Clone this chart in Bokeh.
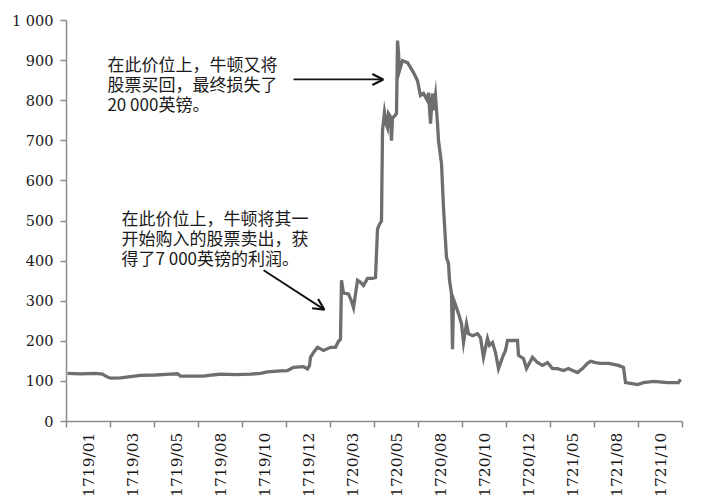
from math import pi
from bokeh.plotting import figure
from bokeh.models import Range1d, FixedTicker, Arrow, OpenHead, Label, ColumnDataSource
from bokeh.embed import file_html
from bokeh.resources import INLINE

# Category labels on the x axis (one per block of trading days)
categories = ["1719/01", "1719/03", "1719/05", "1719/08", "1719/10", "1719/12",
              "1720/03", "1720/05", "1720/08", "1720/10", "1720/12",
              "1721/05", "1721/08", "1721/10"]

# Position along the trading-day axis (in category units) and price
day_pos = [0.023, 0.318, 0.659, 0.818, 0.909, 1.0, 1.227, 1.455, 1.682, 2.023,
           2.364, 2.523, 2.591, 2.818, 3.114, 3.318, 3.5, 3.841, 4.182, 4.409,
           4.568, 4.864, 5.023, 5.159, 5.386, 5.477, 5.523, 5.545, 5.614, 5.705,
           5.841, 6.0, 6.114, 6.182, 6.227, 6.25, 6.295, 6.409, 6.477, 6.523,
           6.614, 6.682, 6.75, 6.841, 6.955, 7.023, 7.068, 7.114, 7.159, 7.182,
           7.227, 7.273, 7.295, 7.318, 7.364, 7.386, 7.409, 7.5, 7.523, 7.545,
           7.568, 7.636, 7.75, 7.818, 7.886, 7.977, 8.045, 8.114, 8.205, 8.227,
           8.273, 8.318, 8.341, 8.386, 8.432, 8.455, 8.523, 8.568, 8.636, 8.682,
           8.705, 8.75, 8.773, 8.795, 8.864, 8.909, 8.977, 9.023, 9.091, 9.136,
           9.227, 9.341, 9.409, 9.477, 9.568, 9.614, 9.682, 9.75, 9.818, 9.909,
           9.977, 10.023, 10.25, 10.273, 10.386, 10.455, 10.591, 10.705, 10.818, 10.932,
           11.045, 11.159, 11.295, 11.409, 11.5, 11.614, 11.727, 11.841, 11.909, 12.023,
           12.136, 12.318, 12.545, 12.659, 12.705, 12.818, 12.977, 13.114, 13.341, 13.659,
           13.909, 13.955]
price = [120, 119, 120, 118, 112, 108, 109, 112, 115, 116,
         118, 119, 113, 113, 113, 116, 118, 117, 118, 120,
         124, 126, 127, 135, 137, 131, 140, 160, 172, 185,
         177, 185, 185, 200, 205, 352, 320, 318, 300, 284,
         352, 347, 339, 357, 357, 359, 480, 492, 500, 726,
         771, 740, 733, 768, 760, 700, 756, 768, 950, 920,
         875, 900, 895, 883, 870, 850, 813, 818, 800, 820,
         743, 818, 776, 813, 743, 700, 643, 534, 409, 394,
         352, 319, 180, 305, 284, 269, 244, 197, 244, 219,
         214, 219, 209, 160, 207, 190, 197, 172, 132, 160,
         177, 202, 202, 165, 157, 132, 160, 147, 140, 147,
         132, 132, 127, 132, 127, 122, 132, 145, 150, 147,
         145, 145, 140, 135, 97, 95, 92, 97, 100, 97,
         97, 105]

y_ticks = [0, 100, 200, 300, 400, 500, 600, 700, 800, 900, 1000]

note_top = ["在此价位上，牛顿又将", "股票买回，最终损失了", "20 000英镑。"]
note_mid = ["在此价位上，牛顿将其一", "开始购入的股票卖出，获", "得了7 000英镑的利润。"]

SERIF = "DejaVu Serif"
CJK = "Noto Sans CJK SC"

p = figure(width=700, height=500, output_backend="svg", toolbar_location=None,
           x_range=Range1d(0, len(categories)), y_range=Range1d(0, 1000),
           min_border_left=66, min_border_right=18, min_border_top=20, min_border_bottom=79)
p.outline_line_color = None
p.xgrid.visible = False
p.ygrid.visible = False
p.background_fill_color = "white"
p.border_fill_color = "white"

src = ColumnDataSource(dict(x=day_pos, y=price))
p.line("x", "y", source=src, line_color="#6e6e6e", line_width=3.3, line_join="miter")

axis_col = "#8c8c8c"
# y axis
ya = p.yaxis[0]
ya.ticker = FixedTicker(ticks=y_ticks, minor_ticks=[])
ya.major_label_overrides = {1000: "1 000"}
ya.major_label_text_font = SERIF
ya.major_label_text_font_size = "14.5px"
ya.major_label_text_color = "#1a1a1a"
ya.axis_line_color = axis_col
ya.axis_line_width = 1.5
ya.major_tick_line_color = axis_col
ya.major_tick_line_width = 1.5
ya.major_tick_in = 0
ya.major_tick_out = 6
ya.major_label_standoff = 7

# x axis (category axis style: ticks at boundaries, labels centred)
xa = p.xaxis[0]
centers = [i + 0.5 for i in range(len(categories))]
xa.ticker = FixedTicker(ticks=centers, minor_ticks=list(range(len(categories) + 1)))
xa.major_label_overrides = {c: lab for c, lab in zip(centers, categories)}
xa.major_label_orientation = pi / 2
xa.major_label_text_font = SERIF
xa.major_label_text_font_size = "15.5px"
xa.major_label_text_color = "#1a1a1a"
xa.axis_line_color = axis_col
xa.axis_line_width = 1.5
xa.major_tick_line_color = None
xa.major_tick_in = 0
xa.major_tick_out = 0
xa.minor_tick_line_color = axis_col
xa.minor_tick_line_width = 1.5
xa.minor_tick_in = 0
xa.minor_tick_out = 6
xa.major_label_standoff = 5

# annotations
for i, t in enumerate(note_top):
    p.add_layout(Label(x=0.93, y=892 - 50 * i, text=t, text_font=CJK,
                       text_font_size="17px", text_baseline="middle", text_color="#1a1a1a"))
for i, t in enumerate(note_mid):
    p.add_layout(Label(x=1.25, y=508 - 50 * i, text=t, text_font=CJK,
                       text_font_size="17px", text_baseline="middle", text_color="#1a1a1a"))

p.add_layout(Arrow(end=OpenHead(size=11, line_width=2.2, line_color="#111111"),
                   x_start=5.16, y_start=853, x_end=7.2, y_end=853,
                   line_width=1.8, line_color="#111111"))
p.add_layout(Arrow(end=OpenHead(size=11, line_width=2.2, line_color="#111111"),
                   x_start=4.48, y_start=377, x_end=5.86, y_end=279,
                   line_width=1.8, line_color="#111111"))

open("out.html", "w").write(file_html(p, INLINE))
